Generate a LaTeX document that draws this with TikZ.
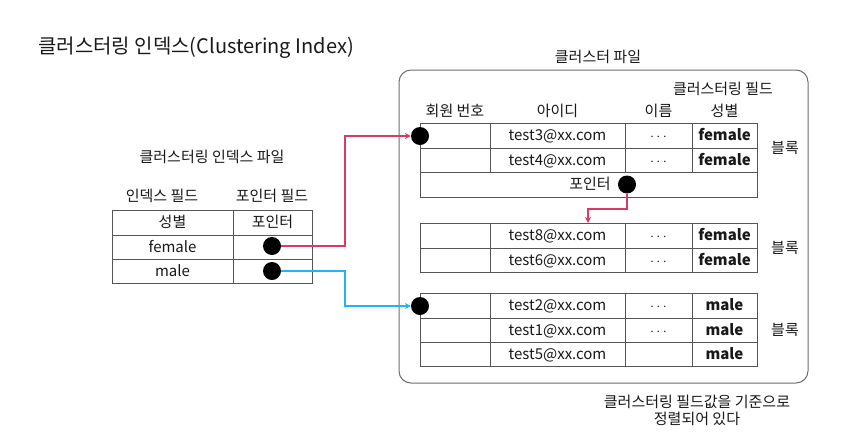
\documentclass[tikz,border=0pt]{standalone}
\usepackage{fontspec}
\setmainfont{Noto Sans CJK KR}
\usetikzlibrary{arrows.meta}
\definecolor{gridc}{RGB}{85,85,85}
\definecolor{boxc}{RGB}{110,110,110}
\definecolor{redc}{RGB}{220,58,100}
\definecolor{bluec}{RGB}{38,178,240}
\definecolor{textc}{RGB}{25,25,25}
\newcommand{\mydots}{$\cdot\mkern-1mu\cdot\mkern-1mu\cdot$}
\tikzset{
 cell/.style={draw=gridc, line width=1pt},
 txt/.style={font=\fontsize{15}{18}\selectfont, text=textc, inner sep=0pt, anchor=center, text height=11pt, text depth=1pt},
 btxt/.style={txt, font=\fontsize{15}{18}\selectfont\bfseries},
 dotnode/.style={circle, fill=black, minimum size=18pt, inner sep=0pt},
 conn/.style={line width=1.3pt, -{Stealth[length=6pt,width=6pt]}},
}
\begin{document}
\begin{tikzpicture}[x=1pt,y=-1pt]
\path[use as bounding box, fill=white] (0,0) rectangle (843,437);

% title
\node[txt, anchor=west, font=\fontsize{20}{24}\selectfont] (title) at (38,48) {클러스터링 인덱스(Clustering Index)};

% left index file
\node[txt] (ltitle) at (212,157) {클러스터링 인덱스 파일};
\node[txt] (lh1) at (162,196) {인덱스 필드};
\node[txt] (lh2) at (272,196) {포인터 필드};
\draw[cell] (112,210) rectangle (312,283);
\draw[cell] (112,235) -- (312,235) (112,259) -- (312,259) (233,210) -- (233,283);
\node[txt] (lc1) at (172.5,222.5) {성별};
\node[txt] (lc2) at (272.5,222.5) {포인터};
\node[txt] (lf) at (172.5,247) {female};
\node[txt] (lm) at (172.5,271) {male};
\node[dotnode] (fdot) at (272,246) {};
\node[dotnode] (mdot) at (272,271) {};

% cluster file box
\node[txt] (ctitle) at (598,57) {클러스터 파일};
\draw[boxc, line width=1pt, rounded corners=12pt] (399,70) rectangle (808,383);
\node[txt] (cf) at (723,89) {클러스터링 필드};
\node[txt] (h1) at (455,111) {회원 번호};
\node[txt] (h2) at (557.5,111) {아이디};
\node[txt] (h3) at (658.5,111) {이름};
\node[txt] (h4) at (724.5,111) {성별};

% block 1
\draw[cell] (420,123) rectangle (757,197);
\draw[cell] (420,148) -- (757,148) (420,172) -- (757,172);
\draw[cell] (490,123) -- (490,172) (625,123) -- (625,172) (692,123) -- (692,172);
\node[txt] (r1a) at (557.5,135.5) {test3@xx.com};
\node[txt] (r1b) at (658.5,135.5) {\mydots};
\node[btxt] (r1c) at (724.5,135.5) {female};
\node[txt] (r2a) at (557.5,160) {test4@xx.com};
\node[txt] (r2b) at (658.5,160) {\mydots};
\node[btxt] (r2c) at (724.5,160) {female};
\node[txt] (ptr) at (590,184.5) {포인터};
\node[dotnode] (pdot) at (627,184.5) {};
\node[dotnode] (b1dot) at (420,136) {};
\node[txt] (bl1) at (785,148) {블록};

% block 2
\draw[cell] (420,223) rectangle (757,272);
\draw[cell] (420,248) -- (757,248);
\draw[cell] (490,223) -- (490,272) (625,223) -- (625,272) (692,223) -- (692,272);
\node[txt] (r3a) at (557.5,235.5) {test8@xx.com};
\node[txt] (r3b) at (658.5,235.5) {\mydots};
\node[btxt] (r3c) at (724.5,235.5) {female};
\node[txt] (r4a) at (557.5,260) {test6@xx.com};
\node[txt] (r4b) at (658.5,260) {\mydots};
\node[btxt] (r4c) at (724.5,260) {female};
\coordinate (b2top) at (588,223);
\node[txt] (bl2) at (785,248) {블록};

% block 3
\draw[cell] (420,293) rectangle (757,366);
\draw[cell] (420,318) -- (757,318) (420,342) -- (757,342);
\draw[cell] (490,293) -- (490,366) (625,293) -- (625,366) (692,293) -- (692,366);
\node[txt] (r5a) at (557.5,305.5) {test2@xx.com};
\node[txt] (r5b) at (658.5,305.5) {\mydots};
\node[btxt] (r5c) at (724.5,305.5) {male};
\node[txt] (r6a) at (557.5,330) {test1@xx.com};
\node[txt] (r6b) at (658.5,330) {\mydots};
\node[btxt] (r6c) at (724.5,330) {male};
\node[txt] (r7a) at (557.5,354) {test5@xx.com};
\node[btxt] (r7c) at (724.5,354) {male};
\node[dotnode] (b3dot) at (420,306) {};
\node[txt] (bl3) at (785,330) {블록};

% note
\node[txt, align=center, text height=, text depth=, font=\fontsize{15}{17}\selectfont] (note) at (697,410) {클러스터링 필드값을 기준으로\\정렬되어 있다};

% connectors
\coordinate (rv) at (345,200);
\draw[conn, redc] (fdot.east) -- (fdot.east -| rv) |- (b1dot.west);
\draw[conn, bluec] (mdot.east) -- (mdot.east -| rv) |- (b3dot.west);
\coordinate (pv) at (627,209);
\draw[conn, redc] (pdot.south) -- (pv) -| (b2top);
\end{tikzpicture}
\end{document}
